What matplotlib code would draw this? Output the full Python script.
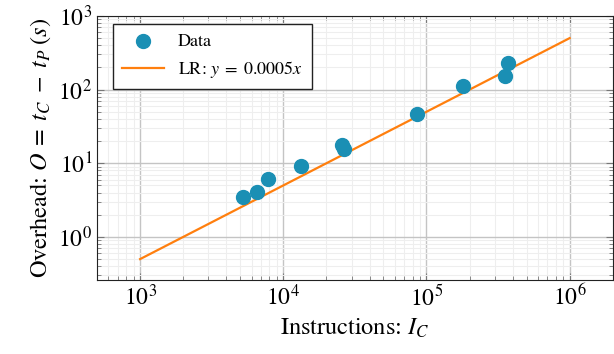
import matplotlib
matplotlib.use('Agg')
import matplotlib.pyplot as plt
import numpy as np

# measured points (instructions, overhead seconds)
instr = [5270, 6600, 7870, 13300, 25700, 26500, 85300, 180700, 352000, 371000]
overhead = [3.5, 4.05, 6.1, 9.2, 17.7, 15.6, 46.7, 113, 153, 230]

slope = 0.0005
fit_x = [1e3, 1e6]

plt.rcParams['font.family'] = ['STIXGeneral', 'DejaVu Serif']
plt.rcParams['mathtext.fontset'] = 'stix'

fig = plt.figure(figsize=(6.14, 3.54), dpi=100)
ax = fig.add_axes([0.158, 0.209, 0.840, 0.746])

ax.scatter(instr, overhead, s=100, color='#1a8fb4', zorder=3, label='Data')
ax.plot(fit_x, [slope * v for v in fit_x], color='#ff7f0e', lw=1.6, zorder=2,
        label=r'LR: $y\;=\;0.0005x$')

ax.set_xscale('log')
ax.set_yscale('log')
ax.set_xlim(5e2, 2e6)
ax.set_ylim(0.26, 1000)

ax.grid(True, which='major', color='#c4c4c4', lw=1.0)
ax.grid(True, which='minor', color='#eeeeee', lw=0.8)
ax.set_axisbelow(True)
ax.tick_params(which='both', direction='in', top=True, right=True, labelsize=17, color='#777777')
ax.tick_params(which='major', length=5)
ax.tick_params(which='minor', length=3)
for s in ax.spines.values():
    s.set_color('#222222')

ax.set_xlabel(r'Instructions: $I_C$', fontsize=17.5)
ax.set_ylabel(r'Overhead: $O\;=\;t_C\;-\;t_P\;(s)$', fontsize=17.5)

leg = ax.legend(loc='upper left', fontsize=13, fancybox=False, framealpha=1,
                edgecolor='#222222', borderpad=0.5, handlelength=2.3,
                bbox_to_anchor=(0.031, 0.968), borderaxespad=0)

fig.savefig('out.png', dpi=100)
